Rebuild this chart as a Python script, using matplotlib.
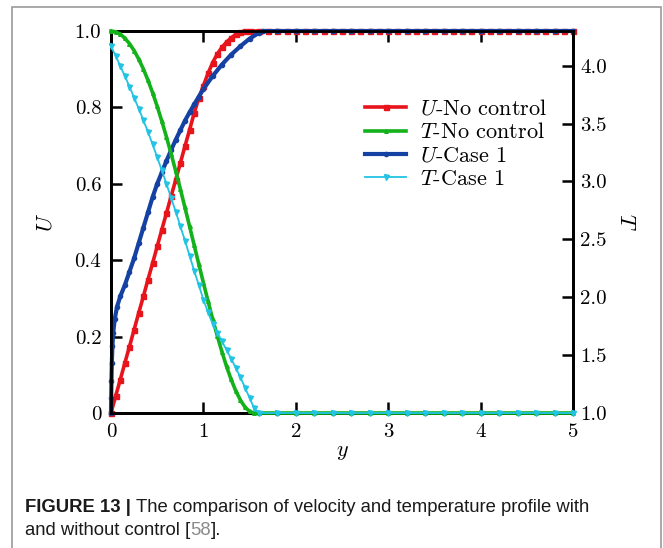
import numpy as np
import matplotlib
matplotlib.use("Agg")
import matplotlib.pyplot as plt
from matplotlib.patches import Rectangle

plt.rcParams['font.family'] = ['cmr10', 'DejaVu Serif']
plt.rcParams['mathtext.fontset'] = 'cm'
plt.rcParams['axes.formatter.use_mathtext'] = True

# ---------------- data ----------------
y_red = [0.00, 0.05, 0.10, 0.15, 0.20, 0.25, 0.30, 0.35, 0.40, 0.45, 0.50,
         0.55, 0.60, 0.65, 0.70, 0.75, 0.80, 0.85, 0.90, 0.95, 1.00, 1.05,
         1.10, 1.15, 1.20, 1.25, 1.30, 1.35, 1.40, 1.45, 1.50,
         1.6, 1.7, 1.8, 1.9, 2.0, 2.1, 2.2, 2.3, 2.4, 2.5, 2.6, 2.7, 2.8,
         2.9, 3.0, 3.1, 3.2, 3.3, 3.4, 3.5, 3.6, 3.7, 3.8, 3.9, 4.0, 4.1,
         4.2, 4.3, 4.4, 4.5, 4.6, 4.7, 4.8, 4.9, 5.0]
U_nocontrol = [0.000, 0.044, 0.087, 0.131, 0.174, 0.218, 0.262, 0.305, 0.349,
               0.392, 0.436, 0.480, 0.523, 0.567, 0.610, 0.654, 0.698, 0.741,
               0.785, 0.824, 0.857, 0.889, 0.917, 0.940, 0.957, 0.971, 0.982,
               0.991, 0.997, 1.000, 1.000,
               1.0, 1.0, 1.0, 1.0, 1.0, 1.0, 1.0, 1.0, 1.0, 1.0, 1.0, 1.0,
               1.0, 1.0, 1.0, 1.0, 1.0, 1.0, 1.0, 1.0, 1.0, 1.0, 1.0, 1.0,
               1.0, 1.0, 1.0, 1.0, 1.0, 1.0, 1.0, 1.0, 1.0, 1.0, 1.0]

y_blue = [0.0, 0.002, 0.005, 0.009, 0.015, 0.024, 0.04, 0.065, 0.10, 0.15,
          0.20, 0.25, 0.30, 0.35, 0.40, 0.45, 0.50, 0.55, 0.60, 0.65, 0.70,
          0.75, 0.80, 0.85, 0.90, 0.95, 1.00, 1.10, 1.20, 1.30, 1.40, 1.50,
          1.60, 1.65,
          1.8, 2.0, 2.2, 2.4, 2.6, 2.8, 3.0, 3.2, 3.4, 3.6, 3.8, 4.0, 4.2,
          4.4, 4.6, 4.8, 5.0]
U_case1 = [0.0, 0.04, 0.085, 0.13, 0.175, 0.21, 0.245, 0.278, 0.305, 0.335,
           0.37, 0.405, 0.445, 0.485, 0.525, 0.565, 0.60, 0.63, 0.66, 0.688,
           0.715, 0.74, 0.765, 0.787, 0.808, 0.828, 0.848, 0.882, 0.912,
           0.938, 0.96, 0.98, 0.995, 1.0,
           1.0, 1.0, 1.0, 1.0, 1.0, 1.0, 1.0, 1.0, 1.0, 1.0, 1.0, 1.0, 1.0,
           1.0, 1.0, 1.0, 1.0]

y_T = [0.00, 0.05, 0.10, 0.15, 0.20, 0.25, 0.30, 0.35, 0.40, 0.45, 0.50,
       0.55, 0.60, 0.65, 0.70, 0.75, 0.80, 0.85, 0.90, 0.95, 1.00, 1.05,
       1.10, 1.15, 1.20, 1.25, 1.30, 1.35, 1.40, 1.45, 1.50, 1.55, 1.60,
       1.8, 2.0, 2.2, 2.4, 2.6, 2.8, 3.0, 3.2, 3.4, 3.6, 3.8, 4.0, 4.2,
       4.4, 4.6, 4.8, 5.0]
T_nocontrol = [4.300, 4.293, 4.273, 4.238, 4.191, 4.131, 4.057, 3.972, 3.875,
               3.767, 3.649, 3.521, 3.385, 3.241, 3.091, 2.936, 2.776, 2.614,
               2.450, 2.286, 2.125, 1.966, 1.813, 1.667, 1.530, 1.403, 1.290,
               1.192, 1.112, 1.051, 1.013, 1.000, 1.000,
               1.0, 1.0, 1.0, 1.0, 1.0, 1.0, 1.0, 1.0, 1.0, 1.0, 1.0, 1.0,
               1.0, 1.0, 1.0, 1.0, 1.0]
T_case1 = [4.170, 4.085, 4.000, 3.910, 3.820, 3.725, 3.630, 3.530, 3.430,
           3.320, 3.210, 3.095, 2.980, 2.860, 2.740, 2.615, 2.490, 2.360,
           2.230, 2.105, 1.980, 1.870, 1.770, 1.695, 1.620, 1.545, 1.470,
           1.390, 1.310, 1.220, 1.130, 1.040, 1.000,
           1.0, 1.0, 1.0, 1.0, 1.0, 1.0, 1.0, 1.0, 1.0, 1.0, 1.0, 1.0,
           1.0, 1.0, 1.0, 1.0, 1.0]

x_ticks = [0, 1, 2, 3, 4, 5]
u_ticks = [0, 0.2, 0.4, 0.6, 0.8, 1.0]
u_ticklabels = ["0", "0.2", "0.4", "0.6", "0.8", "1.0"]
t_ticks = [1.0, 1.5, 2.0, 2.5, 3.0, 3.5, 4.0]
t_ticklabels = ["1.0", "1.5", "2.0", "2.5", "3.0", "3.5", "4.0"]

# ---------------- figure ----------------
W, H = 663, 548
fig = plt.figure(figsize=(W / 100, H / 100), dpi=100)
fig.patch.set_facecolor('white')

# page frame
fig.add_artist(Rectangle((12 / W, -0.1), (661 - 12) / W, 1.1 - 7 / H,
                         transform=fig.transFigure, fill=False,
                         edgecolor='#9a9a9a', lw=1.2))

ax = fig.add_axes([111 / W, 1 - 413 / H, (573 - 111) / W, (413 - 31) / H])
ax2 = ax.twinx()

red = '#e8141c'
green = '#13b21a'
blue = '#1541a3'
cyan = '#22c3e3'

l1, = ax.plot(y_red, U_nocontrol, color=red, lw=2.6, marker='s', ms=3.6,
              clip_on=False, zorder=3, label=r'$U$-No control')
l3, = ax.plot(y_blue, U_case1, color=blue, lw=3.0, marker='o', ms=3.0,
              clip_on=False, zorder=4, label=r'$U$-Case 1')
l2, = ax2.plot(y_T, T_nocontrol, color=green, lw=2.6, marker='^', ms=2.6,
               clip_on=False, zorder=3, label=r'$T$-No control')
l4, = ax2.plot(y_T, T_case1, color=cyan, lw=1.3, marker='v', ms=3.6,
               clip_on=False, zorder=4, label=r'$T$-Case 1')

ax.set_xlim(0, 5)
ax.set_ylim(0, 1)
ax2.set_ylim(1.0, 4.3)

fs = 15
ax.set_xticks(x_ticks)
ax.set_xticklabels([str(v) for v in x_ticks], fontsize=fs)
ax.set_yticks(u_ticks)
ax.set_yticklabels(u_ticklabels, fontsize=fs)
ax2.set_yticks(t_ticks)
ax2.set_yticklabels(t_ticklabels, fontsize=fs)

ax.tick_params(direction='in', length=8, width=1.8, top=True, right=False,
               pad=7)
ax2.tick_params(direction='in', length=8, width=1.8, pad=5)
for a in (ax, ax2):
    for s in a.spines.values():
        s.set_linewidth(2.0)

ax.set_xlabel(r'$y$', fontsize=fs + 1, labelpad=1)
ax.set_ylabel(r'$U$', fontsize=fs + 1, labelpad=14)
ax2.set_ylabel(r'$T$', fontsize=fs + 1, rotation=-90, labelpad=21)

ax2.legend(handles=[l1, l2, l3, l4], loc='upper left',
           bbox_to_anchor=(0.531, 0.846), frameon=False, fontsize=16,
           handlelength=1.85, handletextpad=0.6, labelspacing=0.17,
           borderaxespad=0)

# ---------------- caption ----------------
renderer = fig.canvas.get_renderer()
cap_fam = ['Liberation Sans Narrow', 'Liberation Sans', 'DejaVu Sans']
cfs = 13.3
x0 = 25 / W
y1 = 1 - 512 / H
y2 = 1 - 535 / H


def put(x, y, s, **kw):
    t = fig.text(x, y, s, fontsize=cfs, family=cap_fam, va='baseline',
                 ha='left', **kw)
    bb = t.get_window_extent(renderer=renderer)
    return x + bb.width / W


x = put(x0, y1, 'FIGURE 13 | ', weight='bold', color='#1a1a1a')
put(x, y1, 'The comparison of velocity and temperature profile with',
    color='#1a1a1a')
x = put(x0, y2, 'and without control [', color='#1a1a1a')
x = put(x, y2, '58', color='#8a8a8a')
put(x, y2, '].', color='#1a1a1a')

fig.savefig('out.png', dpi=100)
